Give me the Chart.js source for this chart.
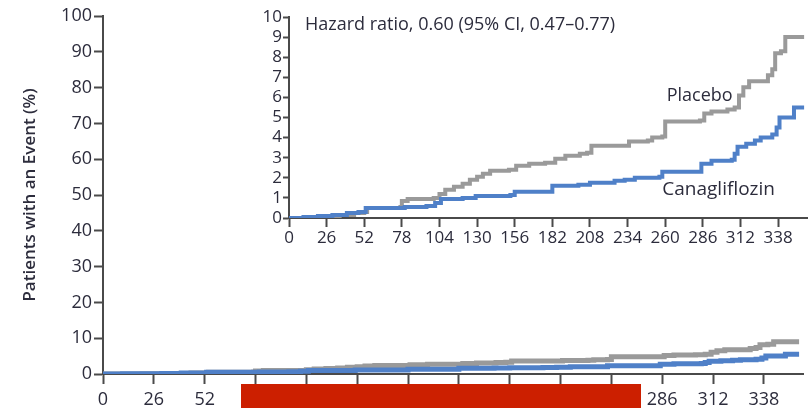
<!DOCTYPE html>
<html lang="en">
<head>
    <meta charset="UTF-8">
    <title>Canagliflozin vs Placebo</title>
    <style type="text/css">
        body { margin: 0; background: #fff; }
        .wrap { position: relative; width: 811px; height: 408px; overflow: hidden; }
        #mainChart { position: absolute; left: 0; top: 0; }
        #insetChart { position: absolute; left: 240px; top: 0; }
        .redBar { position: absolute; left: 241px; top: 384px; width: 400px; height: 24px; background: #cc1f00; }
    </style>
</head>
<body>
    <div class="wrap">
        <canvas id="mainChart" width="811" height="408"></canvas>
        <canvas id="insetChart" width="571" height="255"></canvas>
        <div class="redBar"></div>
    </div>

    <script src="https://cdn.jsdelivr.net/npm/chart.js"></script>
    <script>
        // tick labels
        const dayTicks = [0, 26, 52, 78, 104, 130, 156, 182, 208, 234, 260, 286, 312, 338];
        const mainPctTicks = [0, 10, 20, 30, 40, 50, 60, 70, 80, 90, 100];
        const insetPctTicks = [0, 1, 2, 3, 4, 5, 6, 7, 8, 9, 10];

        // Kaplan-Meier curves (day, % with event)
        const canaDays = [0, 10, 20, 30, 40, 48, 53, 77, 80, 95, 101, 105, 120, 129, 153, 156, 179, 182, 200, 208,
            225, 232, 239, 256, 258, 282, 285, 292, 306, 308, 310, 316, 322, 326, 334, 337, 339, 347, 349, 356];
        const canaPct = [0, 0.05, 0.1, 0.15, 0.25, 0.3, 0.5, 0.5, 0.55, 0.6, 0.75, 0.95, 1.0, 1.1, 1.15, 1.3, 1.3, 1.6, 1.65, 1.75,
            1.85, 1.9, 2.0, 2.05, 2.3, 2.3, 2.7, 2.85, 2.9, 3.2, 3.55, 3.7, 3.85, 4.0, 4.15, 4.5, 5.0, 5.0, 5.5, 5.5];

        const placeboDays = [0, 20, 35, 45, 52, 54, 77, 78, 82, 100, 104, 108, 114, 120, 125, 130, 134, 139, 152, 157,
            166, 177, 184, 191, 201, 206, 209, 232, 235, 248, 251, 258, 260, 284, 287, 292, 303, 308, 311, 314,
            318, 329, 331, 334, 336, 340, 343, 356];
        const placeboPct = [0, 0.05, 0.15, 0.25, 0.3, 0.5, 0.55, 0.85, 0.95, 1.0, 1.2, 1.4, 1.55, 1.7, 1.9, 2.05, 2.2, 2.35, 2.4, 2.6,
            2.7, 2.75, 2.95, 3.1, 3.2, 3.25, 3.6, 3.6, 3.8, 3.85, 4.0, 4.05, 4.8, 4.85, 5.2, 5.3, 5.4, 5.5, 6.1, 6.5,
            6.8, 6.8, 7.1, 7.4, 8.2, 8.3, 9.0, 9.0];

        const seriesNames = ['Canagliflozin', 'Placebo'];
        const hazardText = 'Hazard ratio, 0.60 (95% CI, 0.47\u20130.77)';

        const blue = '#4f80c8';
        const gray = '#9a9a9a';
        const textColor = '#2c2c3c';
        const axisColor = '#4a4a4a';
        const fontFamily = '"Open Sans", "DejaVu Sans", sans-serif';

        function toPoints(xs, ys) {
            return xs.map((x, i) => ({ x: x, y: ys[i] }));
        }

        function makeDatasets(width) {
            return [{
                label: seriesNames[0],
                data: toPoints(canaDays, canaPct),
                borderColor: blue,
                borderWidth: width,
                stepped: true,
                pointRadius: 0,
                fill: false
            }, {
                label: seriesNames[1],
                data: toPoints(placeboDays, placeboPct),
                borderColor: gray,
                borderWidth: width,
                stepped: true,
                pointRadius: 0,
                fill: false
            }];
        }

        function fixedTicks(list) {
            return function (scale) {
                scale.ticks = list.map(v => ({ value: v }));
            };
        }

        Chart.defaults.font.family = fontFamily;
        Chart.defaults.color = textColor;

        // main chart, 0-100 %
        new Chart(document.getElementById('mainChart'), {
            type: 'line',
            data: { datasets: makeDatasets(5) },
            options: {
                responsive: false,
                animation: false,
                layout: { padding: { left: 0, right: 8, top: 16, bottom: 0 } },
                plugins: { legend: { display: false }, tooltip: { enabled: false } },
                scales: {
                    x: {
                        type: 'linear',
                        min: 0,
                        max: 358,
                        afterBuildTicks: fixedTicks(dayTicks),
                        afterFit: function (scale) { scale.height = 34; },
                        border: { color: axisColor, width: 2 },
                        grid: { drawOnChartArea: false, tickLength: 10, tickColor: axisColor, tickWidth: 2 },
                        ticks: { font: { size: 18 }, padding: 5, maxRotation: 0, autoSkip: false }
                    },
                    y: {
                        min: 0,
                        max: 100,
                        afterBuildTicks: fixedTicks(mainPctTicks),
                        afterFit: function (scale) { scale.width = 103; },
                        border: { color: axisColor, width: 2 },
                        grid: { drawOnChartArea: false, tickLength: 9, tickColor: axisColor, tickWidth: 2 },
                        ticks: { font: { size: 18 }, padding: 2, autoSkip: false },
                        title: {
                            display: true,
                            text: 'Patients with an Event (%)',
                            font: { size: 17, weight: '600' },
                            padding: { top: 20, bottom: 0 }
                        }
                    }
                }
            }
        });

        // inset labels drawn at data positions
        const insetLabels = {
            id: 'insetLabels',
            afterDraw(chart) {
                const ctx = chart.ctx;
                const xs = chart.scales.x;
                const ys = chart.scales.y;
                ctx.save();
                ctx.fillStyle = textColor;
                ctx.textBaseline = 'middle';
                ctx.textAlign = 'left';
                ctx.font = '18px ' + fontFamily;
                ctx.fillText(hazardText, xs.getPixelForValue(11), ys.getPixelForValue(9.6));
                ctx.fillText(seriesNames[1], xs.getPixelForValue(261), ys.getPixelForValue(6.07));
                ctx.font = '19px ' + fontFamily;
                ctx.fillText(seriesNames[0], xs.getPixelForValue(258), ys.getPixelForValue(1.4));
                ctx.restore();
            }
        };

        // inset chart, 0-10 %
        new Chart(document.getElementById('insetChart'), {
            type: 'line',
            data: { datasets: makeDatasets(4) },
            options: {
                responsive: false,
                animation: false,
                layout: { padding: { left: 0, right: 4, top: 17, bottom: 0 } },
                plugins: { legend: { display: false }, tooltip: { enabled: false } },
                scales: {
                    x: {
                        type: 'linear',
                        min: 0,
                        max: 358,
                        afterBuildTicks: fixedTicks(dayTicks),
                        afterFit: function (scale) { scale.height = 37; },
                        border: { color: axisColor, width: 2 },
                        grid: { drawOnChartArea: false, tickLength: 9, tickColor: axisColor, tickWidth: 2 },
                        ticks: { font: { size: 17 }, padding: 1, maxRotation: 0, autoSkip: false }
                    },
                    y: {
                        min: 0,
                        max: 10,
                        afterBuildTicks: fixedTicks(insetPctTicks),
                        afterFit: function (scale) { scale.width = 49; },
                        border: { color: axisColor, width: 2 },
                        grid: { drawOnChartArea: false, tickLength: 6, tickColor: axisColor, tickWidth: 2 },
                        ticks: { font: { size: 17 }, padding: 1, autoSkip: false }
                    }
                }
            },
            plugins: [insetLabels]
        });
    </script>
</body>
</html>
